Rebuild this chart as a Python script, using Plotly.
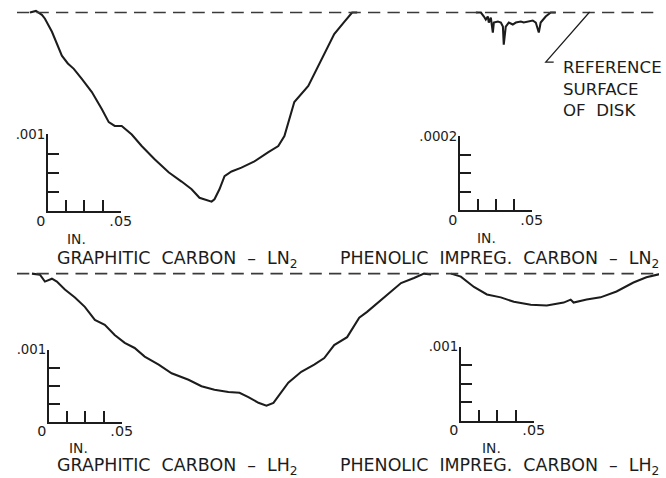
import plotly.graph_objects as go

# ---------------- data (inches) ----------------
# Graphitic carbon - LN2 : position along track (in.), depth below reference surface (in.)
gc_ln2_x = [0, 0.0041, 0.0082, 0.0103, 0.0151, 0.0219, 0.0260, 0.0301, 0.0356, 0.0425, 0.0493,
            0.0541, 0.0582, 0.0630, 0.0699, 0.0767, 0.0856, 0.0952, 0.1041, 0.1110, 0.1164,
            0.1247, 0.1267, 0.1301, 0.1336, 0.1384, 0.1452, 0.1541, 0.1637, 0.1705, 0.1747,
            0.1795, 0.1815, 0.1911, 0.1979, 0.2048, 0.2089, 0.2158, 0.2212, 0.2247]
gc_ln2_d = [0, -0.00002, 0.00003, 0.00008, 0.00025, 0.00056, 0.00066, 0.00073, 0.00086, 0.00103, 0.00125,
            0.00142, 0.00147, 0.00147, 0.00158, 0.00173, 0.00190, 0.00207, 0.00219, 0.00229, 0.00240,
            0.00245, 0.00242, 0.00229, 0.00212, 0.00206, 0.00201, 0.00193, 0.00181, 0.00173, 0.00160,
            0.00129, 0.00116, 0.00095, 0.00069, 0.00044, 0.00028, 0.00012, 0, 0]

# Phenolic impregnated carbon - LN2
pc_ln2_x = [0, 0.0035, 0.0056, 0.0069, 0.0083, 0.0090, 0.0104, 0.0118, 0.0125, 0.0153, 0.0174,
            0.0188, 0.0194, 0.0208, 0.0229, 0.0257, 0.0278, 0.0313, 0.0333, 0.0361, 0.0396,
            0.0417, 0.0438, 0.0451, 0.0486, 0.0521, 0.0556]
pc_ln2_d = [0, 0, 0.0000108, 0.0000189, 0.0000108, 0.000027, 0.0000135, 0.000054, 0.000027, 0.0000243, 0.000027,
            0.0000378, 0.0000865, 0.0000378, 0.000027, 0.0000324, 0.000027, 0.0000243, 0.000027, 0.0000243, 0.0000216,
            0.000027, 0.000054, 0.000027, 0.0000108, 0, 0]

# Graphitic carbon - LH2
gc_lh2_x = [0, 0.0055, 0.0089, 0.0137, 0.0171, 0.0226, 0.0295, 0.0363, 0.0432, 0.0500, 0.0568,
            0.0637, 0.0705, 0.0774, 0.0870, 0.0959, 0.1075, 0.1164, 0.1253, 0.1349, 0.1425,
            0.1486, 0.1555, 0.1610, 0.1658, 0.1712, 0.1760, 0.1849, 0.1938, 0.2007, 0.2075,
            0.2164, 0.2247, 0.2301, 0.2418, 0.2534, 0.2623, 0.2692, 0.2740]
gc_lh2_d = [0, 0.000014, 0.00011, 0.00007, 0.00011, 0.00022, 0.00033, 0.00046, 0.00064, 0.00071, 0.00085,
            0.00096, 0.00103, 0.00115, 0.00126, 0.00138, 0.00147, 0.00156, 0.00161, 0.00164, 0.00165,
            0.00171, 0.00179, 0.00183, 0.00179, 0.00164, 0.00151, 0.00136, 0.00126, 0.00117, 0.00099,
            0.00088, 0.00061, 0.00053, 0.00033, 0.00013, 0.00006, 0, 0.00001]

# Phenolic impregnated carbon - LH2
pc_lh2_x = [0, 0.0068, 0.0158, 0.0247, 0.0342, 0.0432, 0.0548, 0.0658, 0.0774, 0.0822, 0.0842,
            0.0932, 0.1027, 0.1137, 0.1253, 0.1342, 0.1425, 0.1473]
pc_lh2_d = [0, 0.00004, 0.00018, 0.00028, 0.00032, 0.00038, 0.00042, 0.00043, 0.00039, 0.00035, 0.00039,
            0.00035, 0.00032, 0.00024, 0.00012, 0.00005, 0.00001, 0]

# scale bars and labels
scale_x_max = [0.05, 0.05, 0.05, 0.05]
scale_y_max = [0.001, 0.0002, 0.001, 0.001]
scale_y_labels = [".001", ".0002", ".001", ".001"]
scale_x_labels = ["0", ".05"]
panel_titles = ["GRAPHITIC  CARBON  \u2013  LN<sub>2</sub>",
                "PHENOLIC  IMPREG.  CARBON  \u2013  LN<sub>2</sub>",
                "GRAPHITIC  CARBON  \u2013  LH<sub>2</sub>",
                "PHENOLIC  IMPREG.  CARBON  \u2013  LH<sub>2</sub>"]
ref_label = "REFERENCE<br>SURFACE<br>OF  DISK"
unit_label = "IN."

profiles = [(gc_ln2_x, gc_ln2_d), (pc_ln2_x, pc_ln2_d), (gc_lh2_x, gc_lh2_d), (pc_lh2_x, pc_lh2_d)]

# ---------------- layout geometry ----------------
# positions below are given in picture pixels and converted to figure pixels
M = 0                      # body margin (removed by post_script)
AX, AY = 10, 8             # picture offset of page origin
SX, SY = 0.968, 0.983      # picture px per page px
W, H = 670, 478            # figure size (page px)
FONT = "DejaVu Sans"
INK = "#1c1c1c"


def pic_x(f):
    return AX + SX * (M + f)


def pic_y(f):
    return AY + SY * (M + f)


def fx(p):
    return ((p - AX) / SX - M) / W


def fy(p):
    return 1 - ((p - AY) / SY - M) / H


def sz(v):
    return v / 0.975


bars = [dict(ox=46, oy=212, lx=73, ly=77),
        dict(ox=459, oy=211, lx=72, ly=74),
        dict(ox=47, oy=422, lx=73, ly=72),
        dict(ox=460, oy=421, lx=73, ly=74)]
starts = [(28, 13.5), (475, 13.5), (30, 274), (450, 274)]
title_pos = [(176, 260), (499, 260), (176, 466), (499, 466)]
unit_pos = [(75, 239), (486, 238), (77, 448), (491, 448)]

fig = go.Figure()
layout = dict(width=W, height=H, margin=dict(l=0, r=0, t=0, b=0),
              paper_bgcolor="white", plot_bgcolor="rgba(0,0,0,0)", showlegend=False)

shapes = []
annotations = []

for i in range(4):
    b = bars[i]
    sx = b["lx"] / scale_x_max[i]   # picture px per inch
    sy = b["ly"] / scale_y_max[i]
    x0, y0 = starts[i]
    pn = 2 * i + 1
    xa = "xaxis" if pn == 1 else f"xaxis{pn}"
    ya = "yaxis" if pn == 1 else f"yaxis{pn}"
    layout[xa] = dict(domain=[0, 1], range=[(pic_x(0) - x0) / sx, (pic_x(W) - x0) / sx],
                      visible=False, anchor="y" if pn == 1 else f"y{pn}")
    layout[ya] = dict(domain=[0, 1], range=[(pic_y(H) - y0) / sy, (pic_y(0) - y0) / sy],
                      visible=False, anchor="x" if pn == 1 else f"x{pn}")
    px_, pd_ = profiles[i]
    fig.add_trace(go.Scatter(x=px_, y=pd_, mode="lines",
                             line=dict(color=INK, width=sz(2)),
                             xaxis="x" if pn == 1 else f"x{pn}",
                             yaxis="y" if pn == 1 else f"y{pn}",
                             hoverinfo="skip", cliponaxis=False))

    sn = 2 * i + 2
    xm, ym = scale_x_max[i], scale_y_max[i]
    fig.add_trace(go.Scatter(x=[], y=[], mode="lines", xaxis=f"x{sn}", yaxis=f"y{sn}",
                             hoverinfo="skip"))
    layout[f"xaxis{sn}"] = dict(domain=[fx(b["ox"]), fx(b["ox"] + b["lx"])], range=[0, xm],
                                anchor=f"y{sn}", showline=True, linecolor=INK, linewidth=sz(1.8),
                                ticks="inside", ticklen=sz(11), tickwidth=sz(1.5), tickcolor=INK,
                                tickvals=[0, xm * 0.25, xm * 0.5, xm * 0.75, xm],
                                ticktext=[scale_x_labels[0] + "\u2003", "", "", "", scale_x_labels[1]],
                                tickfont=dict(family=FONT, size=sz(14), color=INK),
                                ticklabelstandoff=-5,
                                showgrid=False, zeroline=False, fixedrange=True)
    layout[f"yaxis{sn}"] = dict(domain=[fy(b["oy"]), fy(b["oy"] - b["ly"])], range=[0, ym],
                                anchor=f"x{sn}", showline=True, linecolor=INK, linewidth=sz(1.8),
                                ticks="inside", ticklen=sz(11), tickwidth=sz(1.5), tickcolor=INK,
                                tickvals=[0, ym * 0.25, ym * 0.5, ym * 0.75, ym],
                                ticktext=["", "", "", "", scale_y_labels[i]],
                                tickfont=dict(family=FONT, size=sz(13), color=INK),
                                ticklabelstandoff=-2,
                                showgrid=False, zeroline=False, fixedrange=True)

    annotations.append(dict(text=panel_titles[i], x=fx(title_pos[i][0]), y=fy(title_pos[i][1]),
                            xref="paper", yref="paper", showarrow=False, xanchor="center",
                            yanchor="middle", font=dict(family=FONT, size=sz(17), color=INK)))
    annotations.append(dict(text=unit_label, x=fx(unit_pos[i][0]), y=fy(unit_pos[i][1]),
                            xref="paper", yref="paper", showarrow=False, xanchor="center",
                            yanchor="middle", font=dict(family=FONT, size=sz(13.5), color=INK)))

# reference surface (depth 0) dashed lines
for y_ax in ["y", "y5"]:
    shapes.append(dict(type="line", xref="paper", yref=y_ax, x0=fx(15), x1=1, y0=0, y1=0,
                       line=dict(color="#3a3a3a", width=sz(1.5),
                                 dash=f"{sz(12):.1f}px,{sz(7):.1f}px")))

# leader to the reference label
shapes.append(dict(type="path", xref="paper", yref="paper",
                   path=f"M {fx(589)} {fy(13)} L {fx(545)} {fy(63)} L {fx(553)} {fy(63)}",
                   line=dict(color=INK, width=sz(1.2))))
annotations.append(dict(text=ref_label, x=fx(560), y=fy(57), xref="paper", yref="paper",
                        showarrow=False, xanchor="left", yanchor="top", align="left",
                        font=dict(family=FONT, size=sz(16.2), color=INK)))

layout["shapes"] = shapes
layout["annotations"] = annotations
fig.update_layout(**layout)
fig.write_html("out.html", config=dict(displayModeBar=False),
               post_script="document.body.style.margin='0';")
